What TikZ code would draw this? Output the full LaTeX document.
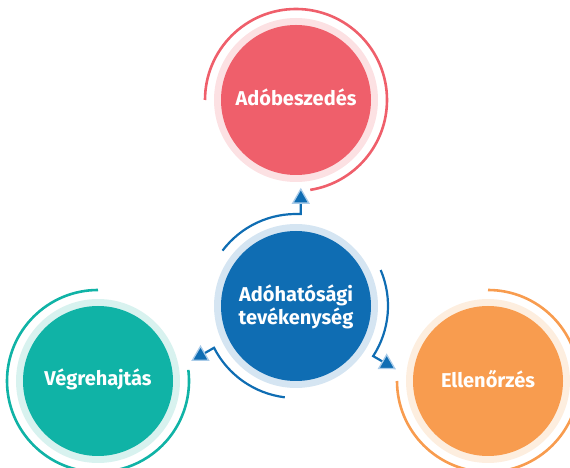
\documentclass[tikz,border=0pt]{standalone}
\usepackage{fontspec}
\setmainfont{Fira Sans}
\usetikzlibrary{calc}
\definecolor{cred}{HTML}{EF5F6B}
\definecolor{credl}{HTML}{FCE1E3}
\definecolor{cteal}{HTML}{10B3A6}
\definecolor{ctealL}{HTML}{D8F2EF}
\definecolor{corange}{HTML}{F89C4F}
\definecolor{corangeL}{HTML}{FDEEDF}
\definecolor{cblue}{HTML}{0F6DB3}
\definecolor{cblueL}{HTML}{D5E5F2}
\definecolor{carrowL}{HTML}{A9CBE8}
\tikzset{
  lbl/.style={text=white,font=\fontsize{20}{23}\selectfont\bfseries,align=center},
  outerarc/.style={line width=2.6pt},
  conn/.style={draw=cblue,line width=2.2pt},
  ahead/.style={fill=cblue,draw=carrowL,line width=1.3pt,line join=miter},
}
\begin{document}
\begin{tikzpicture}[x=1pt,y=1pt]
\useasboundingbox (0,0) rectangle (570,468);
% top red
\coordinate (r) at (296,368);
\fill[credl] (r) circle[radius=82];
\fill[cred] (r) circle[radius=75];
\node[lbl] (rt) at ($(r)+(0,3)$) {Adóbeszedés};
\draw[cred,outerarc] ($(r)+(180:91)$) arc[start angle=180,end angle=-81,radius=91];
% center blue
\coordinate (b) at (296,162);
\fill[cblueL] (b) circle[radius=82];
\fill[cblue] (b) circle[radius=75];
\node[lbl] (bt) at ($(b)+(0,-1)$) {Adóhatósági\\tevékenység};
% left teal
\coordinate (t) at (98,87);
\fill[ctealL] (t) circle[radius=82];
\fill[cteal] (t) circle[radius=75];
\node[lbl] (tt) at ($(t)+(0,2)$) {Végrehajtás};
\draw[cteal,outerarc] ($(t)+(90:91)$) arc[start angle=90,end angle=367,radius=91];
% right orange
\coordinate (o) at (488,87);
\fill[corangeL] (o) circle[radius=82];
\fill[corange] (o) circle[radius=75];
\node[lbl] (ot) at ($(o)+(0,2)$) {Ellenőrzés};
\draw[corange,outerarc] ($(o)+(90:91)$) arc[start angle=90,end angle=-180,radius=91];
% connectors
\draw[conn] ($(b)+(143:92)$) arc[start angle=143,end angle=87,radius=92] -- ++(90:11) coordinate (e1);
\draw[conn] ($(b)+(23:92)$) arc[start angle=23,end angle=-33,radius=92] -- ++(-30:11) coordinate (e2);
\draw[conn] ($(b)+(-97:92)$) arc[start angle=-97,end angle=-153,radius=92] -- ++(210:11) coordinate (e3);
\filldraw[ahead] ($(e1)+(90:14)$) -- ($(e1)+(180:8)$) -- ($(e1)+(0:8)$) -- cycle;
\filldraw[ahead] ($(e2)+(-30:14)$) -- ($(e2)+(60:8)$) -- ($(e2)+(-120:8)$) -- cycle;
\filldraw[ahead] ($(e3)+(210:14)$) -- ($(e3)+(300:8)$) -- ($(e3)+(120:8)$) -- cycle;
\end{tikzpicture}
\end{document}
